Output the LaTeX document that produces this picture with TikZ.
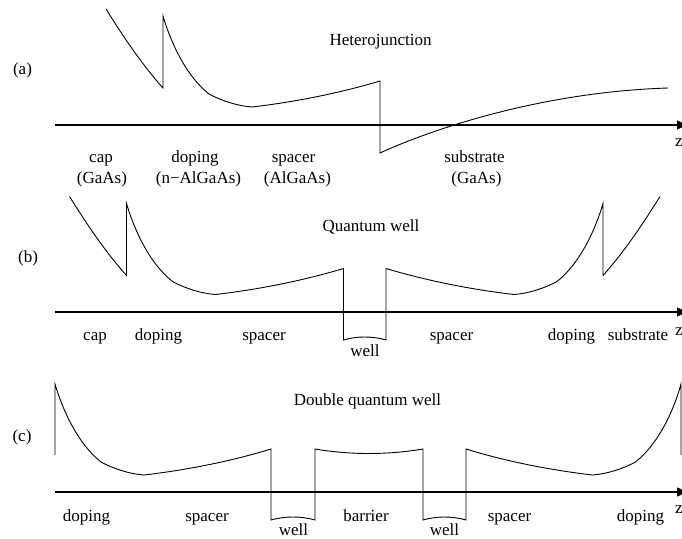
\documentclass[tikz,border=0pt]{standalone}
\usepackage{fontspec}
\setmainfont{Liberation Serif}
\usetikzlibrary{arrows.meta}
\begin{document}
\begin{tikzpicture}[x=1pt,y=-1pt,
  band/.style={line width=0.9pt,line join=miter},
  axisline/.style={line width=1.3pt,-{Triangle[length=10pt,width=9pt]}},
  lbl/.style={anchor=base,inner sep=0pt,font=\fontsize{17}{20}\selectfont}]
\useasboundingbox (0,0) rectangle (682,538);
% ---------- (a) Heterojunction ----------
\coordinate (a0) at (55,125);
\coordinate (a1) at (687,125);
\draw[axisline] (a0) -- (a1);
\draw[band] (106,9) .. controls (118,28) and (138,60) .. (163,88) -- (163,16)
  .. controls (170,40) and (185,75) .. (209,94)
  .. controls (222,101) and (238,106) .. (252,107)
  .. controls (295,102) and (340,93) .. (380,81) -- (380,153)
  .. controls (430,130) and (540,92) .. (668,88);
\node[lbl] (la) at (22.5,74) {(a)};
\node[lbl] (ta) at (380.5,45) {Heterojunction};
\node[lbl] (za) at (679,146) {z};
\node[lbl] (a-cap) at (101,162) {cap};
\node[lbl] (a-cap2) at (102,183) {(GaAs)};
\node[lbl] (a-dop) at (195,162) {doping};
\node[lbl] (a-dop2) at (198.5,183) {(n−AlGaAs)};
\node[lbl] (a-spa) at (293.5,162) {spacer};
\node[lbl] (a-spa2) at (297.5,183) {(AlGaAs)};
\node[lbl] (a-sub) at (474.5,162) {substrate};
\node[lbl] (a-sub2) at (476.5,183) {(GaAs)};
% ---------- (b) Quantum well ----------
\coordinate (b0) at (55,312);
\coordinate (b1) at (687,312);
\draw[axisline] (b0) -- (b1);
\draw[band] (69.5,196.5) .. controls (81.5,215.5) and (101.5,247.5) .. (126.5,275.5) -- (126.5,203.5)
  .. controls (133.5,227.5) and (148.5,262.5) .. (172.5,281.5)
  .. controls (185.5,288.5) and (201.5,293.5) .. (215.5,294.5)
  .. controls (258.5,289.5) and (303.5,280.5) .. (343.5,268.5) -- (343.5,340)
  .. controls (357,336) and (372,336) .. (386,340) -- (386,268.5)
  .. controls (426,280.5) and (471,289.5) .. (514,294.5)
  .. controls (528,293.5) and (544,288.5) .. (557,281.5)
  .. controls (581,262.5) and (596,227.5) .. (603,203.5) -- (603,275.5)
  .. controls (628,247.5) and (648,215.5) .. (660,196.5);
\node[lbl] (lb) at (28,262) {(b)};
\node[lbl] (tb) at (371,231) {Quantum well};
\node[lbl] (zb) at (679,335) {z};
\node[lbl] (b-cap) at (95,340) {cap};
\node[lbl] (b-dop) at (158.5,340) {doping};
\node[lbl] (b-spa) at (264,340) {spacer};
\node[lbl] (b-well) at (365,356) {well};
\node[lbl] (b-spa2) at (451.5,340) {spacer};
\node[lbl] (b-dop2) at (571.5,340) {doping};
\node[lbl] (b-sub) at (638,340) {substrate};
% ---------- (c) Double quantum well ----------
\coordinate (c0) at (55,492);
\coordinate (c1) at (687,492);
\draw[axisline] (c0) -- (c1);
\draw[band] (55,455) -- (55,384)
  .. controls (62,408) and (77,443) .. (101,462)
  .. controls (114,469) and (130,474) .. (144,475)
  .. controls (187,470) and (232,461) .. (271,449) -- (271,520)
  .. controls (285,516) and (301,516) .. (315,520) -- (315,449)
  .. controls (350,455) and (388,455) .. (423,449) -- (423,520)
  .. controls (437,516) and (452,516) .. (466,520) -- (466,449)
  .. controls (504.5,461) and (549.5,470) .. (592.5,475)
  .. controls (606.5,474) and (622.5,469) .. (635.5,462)
  .. controls (659.5,443) and (674.5,408) .. (681,384) -- (681,455);
\node[lbl] (lc) at (22,441) {(c)};
\node[lbl] (tc) at (367.5,405) {Double quantum well};
\node[lbl] (zc) at (679,513) {z};
\node[lbl] (c-dop) at (86.5,521) {doping};
\node[lbl] (c-spa) at (207,521) {spacer};
\node[lbl] (c-well) at (293.5,535) {well};
\node[lbl] (c-bar) at (366,521) {barrier};
\node[lbl] (c-well2) at (444.5,535) {well};
\node[lbl] (c-spa2) at (509.5,521) {spacer};
\node[lbl] (c-dop2) at (640.5,521) {doping};
\end{tikzpicture}
\end{document}
